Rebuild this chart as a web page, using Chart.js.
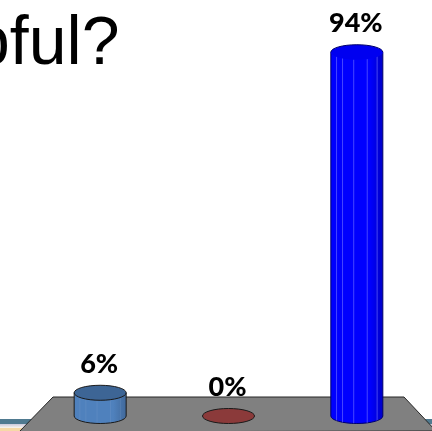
<!DOCTYPE html>
<html><head><meta charset="utf-8">
<style>
html,body{margin:0;padding:0;background:#fff;width:432px;height:431px;overflow:hidden}
#wrap{position:relative;width:432px;height:431px}
canvas{display:block}
</style>
<script src="https://cdn.jsdelivr.net/npm/chart.js@4"></script>
</head><body><div id="wrap"><canvas id="c" width="432" height="431"></canvas></div>
<script>
const categories = ["A", "B", "C"];
const percentValues = [6, 0, 94];
const valueLabels = ["6%", "0%", "94%"];
const sideColors = ["#4f81bd", "#8b3a3a", "#0000ff"];
const capColors = ["#3d6595", "#8b3a3a", "#0000f0"];
const titleText = "pful?";

function cyl(ctx, el, i) {
  const cx = el.x, top = el.y, bot = el.base, hw = el.width / 2, ry = 7.5;
  ctx.save();
  ctx.strokeStyle = i === 2 ? "#00006a" : "#1a1a1a";
  ctx.lineWidth = 1;
  if (bot - top > 0.5) {
    ctx.beginPath();
    ctx.moveTo(cx - hw, top);
    ctx.lineTo(cx - hw, bot);
    ctx.ellipse(cx, bot, hw, ry, 0, Math.PI, 0, true);
    ctx.lineTo(cx + hw, top);
    ctx.closePath();
    const g = ctx.createLinearGradient(cx - hw, 0, cx + hw, 0);
    g.addColorStop(0, sideColors[i]);
    g.addColorStop(0.75, sideColors[i]);
    g.addColorStop(1, i === 2 ? "#0000c8" : "#41699b");
    ctx.fillStyle = g;
    ctx.fill(); ctx.stroke();
    ctx.save();
    ctx.clip();
    ctx.strokeStyle = i === 2 ? "rgba(130,130,255,.55)" : "rgba(255,255,255,.07)";
    [-.78, -.55, -.12, .4, .78].forEach(f => {
      ctx.beginPath(); ctx.moveTo(cx + f * hw, top); ctx.lineTo(cx + f * hw, bot + ry); ctx.stroke();
    });
    ctx.restore();
  }
  ctx.beginPath();
  ctx.ellipse(cx, top, hw, ry, 0, 0, Math.PI * 2);
  ctx.fillStyle = capColors[i];
  ctx.fill();
  if (i === 2) {
    ctx.beginPath();
    ctx.ellipse(cx, top, hw, ry, 0, Math.PI, 0);
  }
  ctx.stroke();
  ctx.restore();
}

const scene = {
  id: "scene",
  beforeDraw(chart) {
    const ctx = chart.ctx, a = chart.chartArea;
    ctx.save();
    ctx.fillStyle = "#fff"; ctx.fillRect(0, 0, 432, 431);
    ctx.fillStyle = "#4f7a90"; ctx.fillRect(0, 419, 432, 5);
    const g = ctx.createLinearGradient(0, 424, 0, 428);
    g.addColorStop(0, "#c9c9dc"); g.addColorStop(1, "#fbf6ee");
    ctx.fillStyle = g; ctx.fillRect(0, 424, 432, 4);
    ctx.fillStyle = "#f6d9a6"; ctx.fillRect(0, 428, 432, 3);
    ctx.beginPath();
    ctx.moveTo(53, a.bottom - 19);
    ctx.lineTo(404, a.bottom - 19);
    ctx.lineTo(436, a.bottom + 15);
    ctx.lineTo(19, a.bottom + 16);
    ctx.closePath();
    ctx.fillStyle = "#808080"; ctx.fill();
    ctx.strokeStyle = "#262626"; ctx.lineWidth = 1; ctx.stroke();
    ctx.restore();
  },
  afterDatasetsDraw(chart) {
    const ctx = chart.ctx;
    const m = chart.getDatasetMeta(0);
    m.data.forEach((el, i) => cyl(ctx, el, i));
    ctx.save();
    ctx.fillStyle = "#000"; ctx.textAlign = "center"; ctx.textBaseline = "middle";
    ctx.font = "900 27px Lato, Carlito, sans-serif";
    m.data.forEach((el, i) => ctx.fillText(valueLabels[i], el.x - 1, el.y - 29 + (i === 0 ? 1 : 0)));
    ctx.textAlign = "left"; ctx.textBaseline = "alphabetic";
    ctx.font = "68px 'Liberation Sans', Arial, sans-serif";
    ctx.fillText(titleText, -28, 64);
    ctx.restore();
  }
};

new Chart(document.getElementById("c"), {
  type: "bar",
  data: { labels: categories, datasets: [{ data: percentValues, backgroundColor: "rgba(0,0,0,0)", borderWidth: 0, barThickness: 52 }] },
  options: {
    responsive: false, animation: false, devicePixelRatio: 1,
    layout: { padding: { left: 36, right: 11, top: 29, bottom: 15 } },
    plugins: { legend: { display: false }, tooltip: { enabled: false } },
    scales: {
      x: { display: false, offset: true },
      y: { display: false, min: 0, max: 100 }
    }
  },
  plugins: [scene]
});
</script></body></html>
